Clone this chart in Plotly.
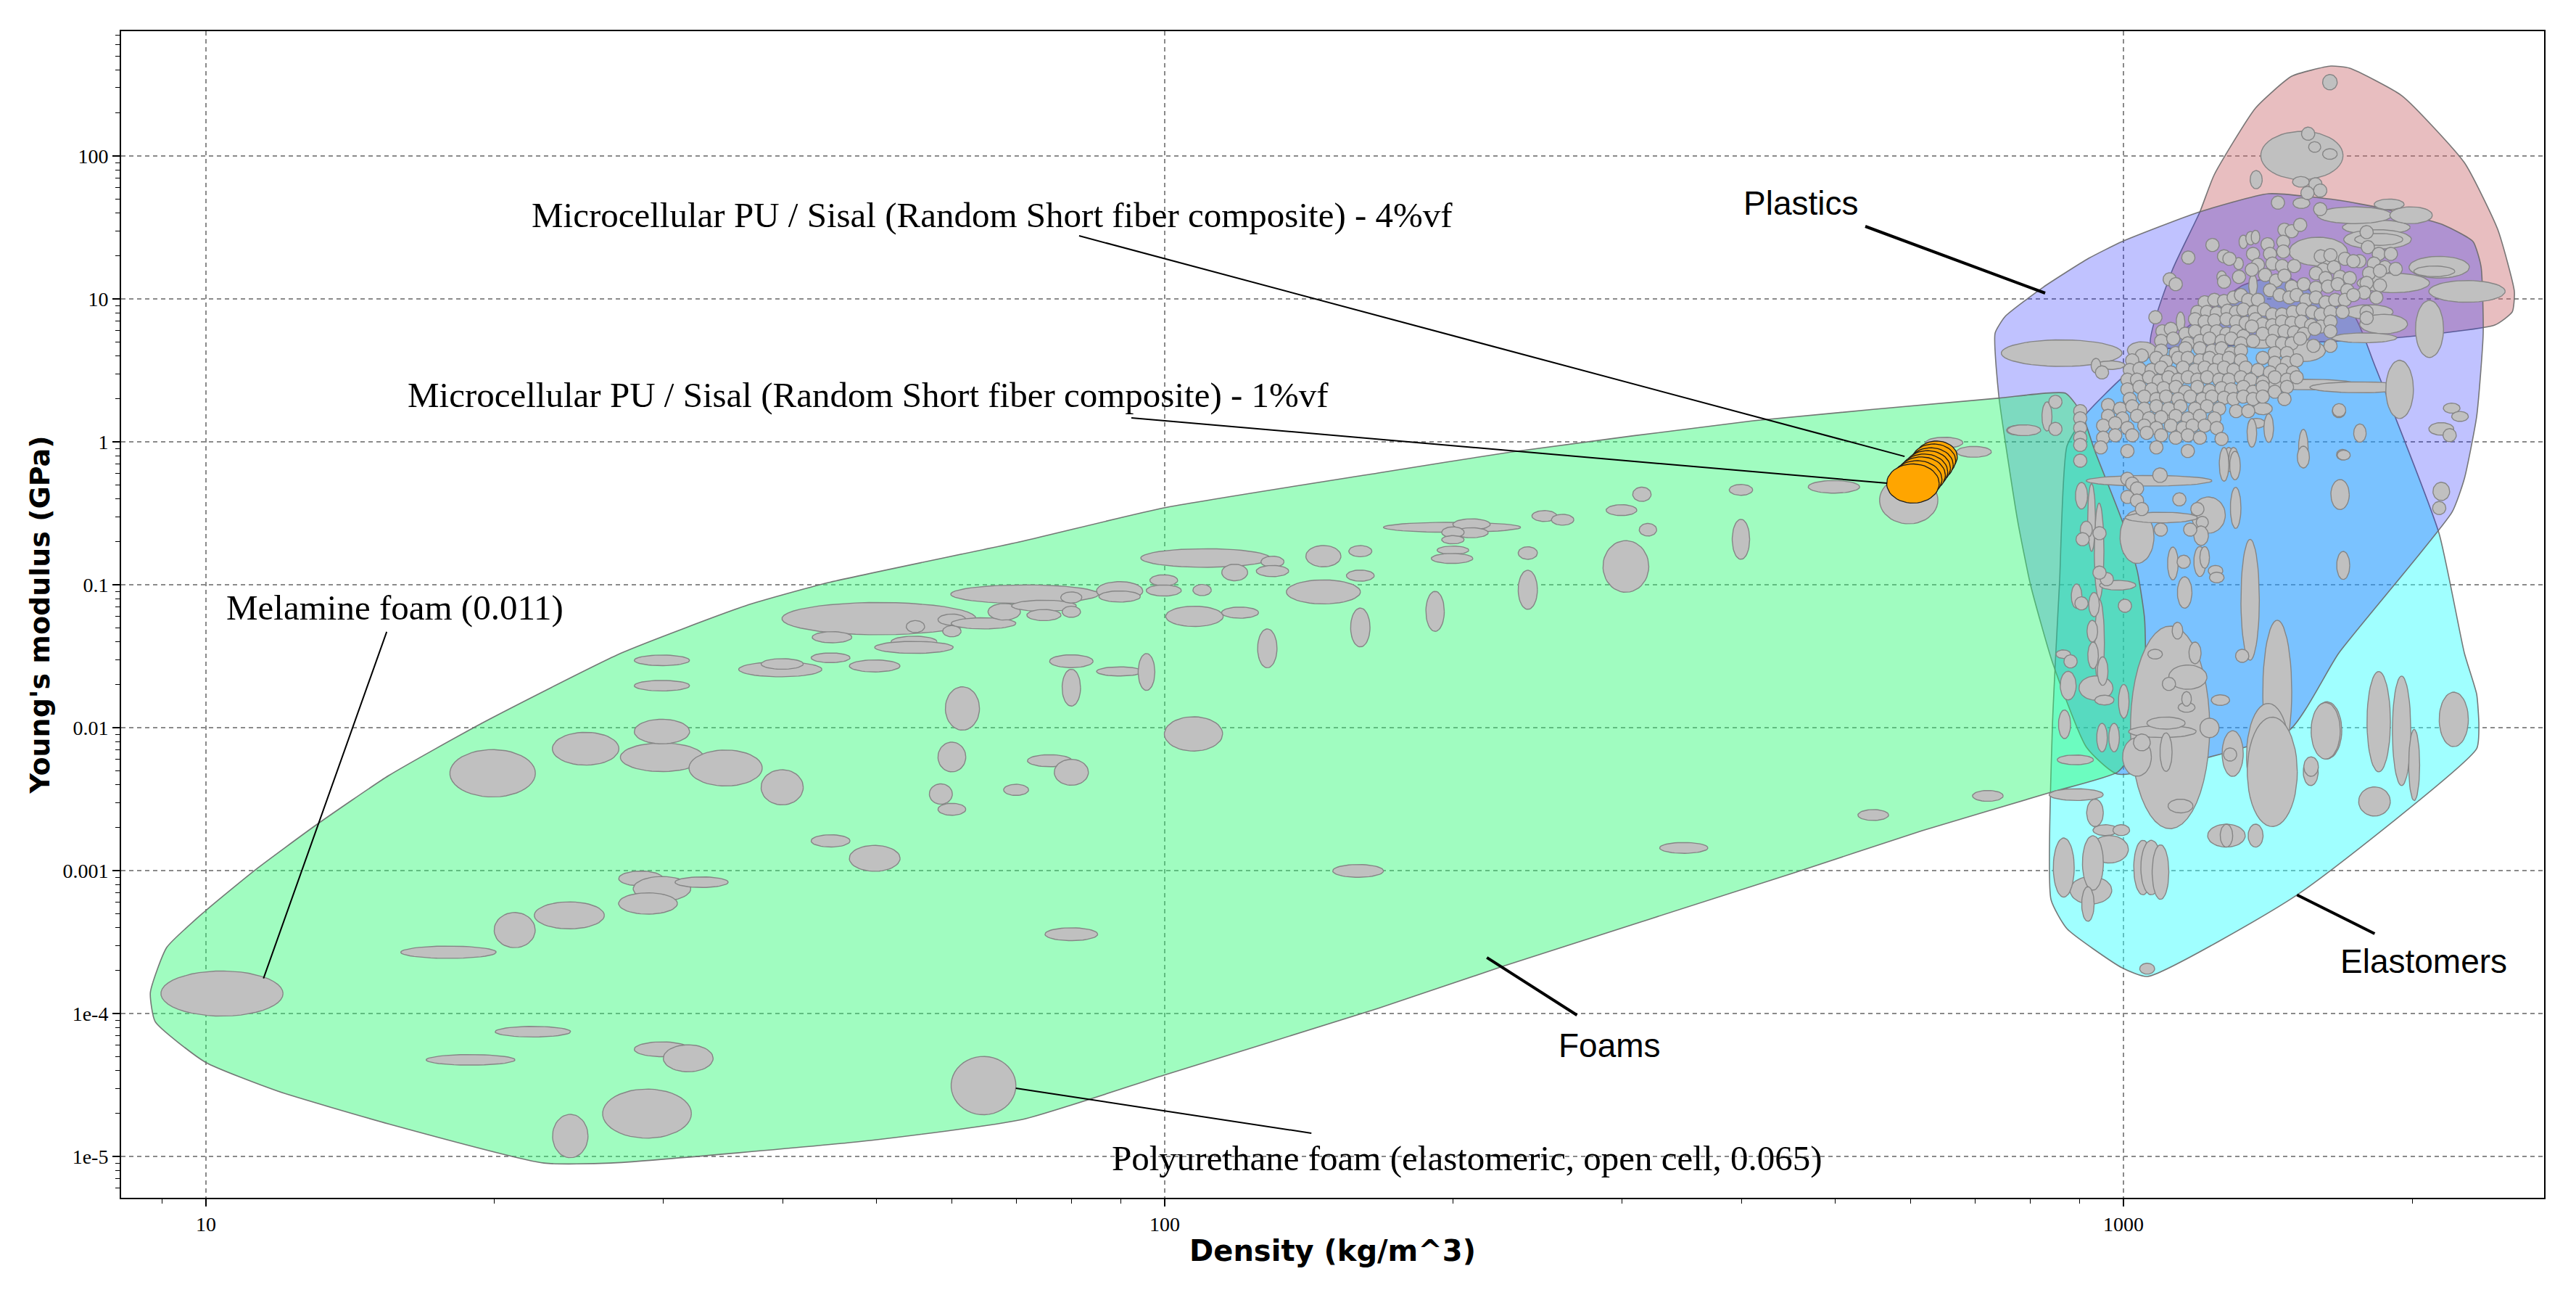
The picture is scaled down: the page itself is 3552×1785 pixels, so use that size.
import numpy as np
import plotly.graph_objects as go

# ---------------------------------------------------------------------------
# DATA  (stored as log10 values:
#        density in kg/m^3, Young's modulus in GPa; s* = half range in decades)
# ---------------------------------------------------------------------------

# --- family envelopes -------------------------------------------------------
foam_env_lrho = [0.942, 0.959, 0.999, 1.0514, 1.115, 1.1906, 1.289, 1.4334, 1.5628, 1.649,
                 1.8517, 1.9992, 2.2224, 2.3616, 2.6135, 2.869, 2.9395, 2.9566, 2.9697, 2.9992,
                 3.0144, 3.022, 3.0227, 3.0129, 2.994, 2.9244, 2.790, 2.6566, 2.3525, 2.2224,
                 1.9992, 1.8517, 1.6929, 1.4221, 1.3525, 1.1906, 1.0749, 0.9992, 0.947]
foam_env_lE = [-3.853, -3.538, -3.284, -2.995, -2.680, -2.335, -1.964, -1.477, -1.147, -0.985,
               -0.695, -0.462, -0.218, -0.071, 0.147, 0.305, 0.340, 0.198, -0.056, -0.563,
               -0.904, -1.239, -1.731, -2.137, -2.310, -2.452, -2.721, -3.015, -3.670, -3.964,
               -4.431, -4.741, -4.888, -5.046, -5.046, -4.772, -4.543, -4.340, -4.056]

elast_env_lrho = [2.941, 2.9614, 2.9992, 3.0318, 3.0673, 3.1248, 3.1679, 3.2057, 3.2413, 3.261,
                  3.3291, 3.3555, 3.3684, 3.3707, 3.3684, 3.1815, 3.025, 2.9985, 2.941, 2.9244,
                  2.9259, 2.9334]
elast_env_lE = [-0.030, 0.198, 0.452, 0.619, 0.807, 1.096, 1.162, 1.010, 0.873, 0.553,
                -0.640, -1.477, -1.766, -1.985, -2.147, -3.168, -3.741, -3.680, -3.406, -3.203,
                -1.985, -0.970]

other_env_lrho = [3.0287, 3.0507, 3.0794, 3.0946, 3.1377, 3.1755, 3.2163, 3.236, 3.2905, 3.3555,
                  3.3903, 3.4077, 3.4055, 3.3873, 3.2814, 3.1301]
other_env_lE = [0.675, 1.198, 1.604, 1.868, 2.335, 2.558, 2.629, 2.614, 2.421, 1.954,
                1.487, 1.051, 0.909, 0.817, 0.726, 0.680]

plast_env_lrho = [2.8661, 2.8767, 2.9161, 2.9637, 2.9985, 3.0772, 3.1513, 3.2247, 3.2686, 3.3336,
                  3.3646, 3.3729, 3.3752, 3.3684, 3.3555, 3.3427, 3.2247, 3.1725, 2.994, 2.9614,
                  2.9259, 2.9032, 2.8896, 2.8699]
plast_env_lE = [0.761, 0.878, 1.081, 1.284, 1.401, 1.604, 1.736, 1.690, 1.635, 1.518,
                1.401, 1.228, 0.761, 0.178, -0.259, -0.492, -1.477, -2.020, -2.325, -2.137,
                -1.543, -1.005, -0.553, 0.325]

# --- foam grades --------------------------------------------------------------
foam_lrho = [1.0167, 1.299, 1.396, 1.4756, 1.4756, 1.542, 1.601, 1.4756, 1.4756, 1.599,
             1.601, 1.6515, 1.6515, 1.4536, 1.4756, 1.517, 1.461, 1.379, 1.322, 1.253,
             1.341, 1.276, 1.4756, 1.503, 1.460, 1.380,
             1.702, 1.653, 1.740, 1.7385, 1.7385, 1.778, 1.778, 1.811, 1.8326, 1.854,
             1.874, 1.874, 1.9026, 1.9026, 1.953, 1.953, 1.999, 1.999, 2.039, 2.0425,
             2.073, 2.1124, 2.1124, 2.1655, 2.204, 2.204, 2.1655, 2.031, 2.0786, 2.107,
             2.204, 1.6975, 1.9026, 1.9026, 1.953, 1.981, 1.789, 1.778, 1.7665, 1.778,
             1.880, 1.9026, 1.845, 2.030, 1.6975, 1.9026, 2.2017, 1.811,
             2.2997, 2.320, 2.320, 2.3006, 2.3006, 2.3006, 2.2997, 2.396, 2.415, 2.3787,
             2.3787, 2.282, 2.4764, 2.4977, 2.504, 2.481, 2.601, 2.601, 2.698, 2.776,
             2.813, 2.844, 2.891, 2.739, 2.8585, 2.5414]
foam_lE = [-3.860, -2.319, -2.147, -2.207, -2.027, -2.282, -2.417, -1.529, -1.706, -1.592,
           -1.554, -1.511, -2.792, -3.055, -3.127, -3.081, -3.230, -3.313, -3.416, -3.571,
           -4.127, -4.324, -4.250, -4.313, -4.700, -4.857,
           -1.237, -1.367, -1.2925, -1.399, -1.438, -1.244, -1.325, -1.270, -1.189, -1.066,
           -1.147, -1.212, -1.089, -1.189, -1.043, -1.082, -0.969, -1.040, -1.037, -0.813,
           -0.914, -0.839, -0.904, -0.800, -0.765, -0.936, -1.050, -1.221, -1.195, -1.445,
           -1.299, -1.568, -1.535, -1.720, -1.6065, -1.610, -1.8655, -2.205, -2.464, -2.571,
           -2.231, -2.312, -2.435, -2.0435, -2.914, -3.445, -3.002, -4.504,
           -0.598, -0.577, -0.636, -0.633, -0.685, -0.758, -0.816, -0.519, -0.545, -0.778,
           -1.035, -1.186, -0.478, -0.367, -0.615, -0.872, -0.336, -0.682, -0.315, -0.408,
           -0.006, -0.070, 0.081, -2.611, -2.477, -2.841]
foam_srho = [0.0637, 0.0446, 0.0347, 0.0434, 0.0289, 0.0382, 0.022, 0.0289, 0.0289, 0.0434,
             0.022, 0.0203, 0.0203, 0.0231, 0.030, 0.0278, 0.0307, 0.0365, 0.0214, 0.0498,
             0.0394, 0.0463, 0.0289, 0.026, 0.0463, 0.0185,
             0.1013, 0.0207, 0.0096, 0.024, 0.041, 0.0145, 0.0096, 0.0338, 0.0169, 0.0772,
             0.0338, 0.0178, 0.011, 0.0096, 0.0241, 0.0217, 0.0145, 0.0183, 0.0096, 0.0675,
             0.0135, 0.012, 0.0169, 0.0183, 0.012, 0.0145, 0.0386, 0.030, 0.0193, 0.0101,
             0.0101, 0.0265, 0.0227, 0.0096, 0.0241, 0.0087, 0.0178, 0.0145, 0.012, 0.0145,
             0.0232, 0.0178, 0.013, 0.0304, 0.0265, 0.0275, 0.0265, 0.0338,
             0.0716, 0.0195, 0.0174, 0.0117, 0.0117, 0.0165, 0.0217, 0.013, 0.0117, 0.010,
             0.010, 0.0096, 0.016, 0.0096, 0.0091, 0.0239, 0.0122, 0.0091, 0.0269, 0.0304,
             0.0195, 0.0182, 0.013, 0.016, 0.016, 0.0252]
foam_sE = [0.158, 0.166, 0.115, 0.100, 0.086, 0.126, 0.123, 0.037, 0.037, 0.052,
           0.037, 0.034, 0.043, 0.052, 0.086, 0.037, 0.0745, 0.0945, 0.123, 0.043,
           0.037, 0.037, 0.052, 0.0945, 0.172, 0.152,
           0.113, 0.039, 0.042, 0.039, 0.042, 0.039, 0.039, 0.039, 0.058, 0.065,
           0.039, 0.039, 0.039, 0.039, 0.065, 0.039, 0.039, 0.039, 0.039, 0.065,
           0.058, 0.039, 0.039, 0.0745, 0.039, 0.039, 0.084, 0.071, 0.039, 0.136,
           0.136, 0.042, 0.045, 0.129, 0.032, 0.129, 0.152, 0.104, 0.071, 0.042,
           0.042, 0.0906, 0.039, 0.12, 0.0906, 0.045, 0.045, 0.204,
           0.035, 0.038, 0.035, 0.038, 0.029, 0.029, 0.035, 0.038, 0.038, 0.044,
           0.137, 0.140, 0.038, 0.050, 0.044, 0.181, 0.038, 0.140, 0.044, 0.166,
           0.038, 0.038, 0.035, 0.038, 0.038, 0.038]

# --- plastics / elastomers: large & elongated grades ---------------------------
big_lrho = [3.1861, 3.2153, 2.9355, 3.3583, 3.2814, 3.2032, 3.3293, 3.3242, 3.2637, 3.2410,
            3.3000, 3.2650, 3.2663, 3.2771, 3.2562, 3.2713, 3.2511, 3.3192, 3.1880, 3.1427,
            3.0192, 2.9864, 3.1932, 3.2466, 3.2880, 3.0482, 3.0486, 3.1604, 3.1509, 3.1552,
            3.1321, 3.0141, 3.0885, 3.0267, 3.0394, 2.9746, 2.9751, 2.9667, 3.0671, 3.2121,
            3.2662, 3.2901, 3.3032, 3.3445, 3.2109, 3.1953, 3.2618, 3.0406, 3.0444, 3.0141,
            2.9713, 2.9498, 2.9507, 3.1074, 2.9660, 2.9855]
big_lE = [2.0034, 2.5161, 0.6205, 1.0525, 1.1117, 1.3317, 1.2217, 1.1929, 1.5009, 1.5855,
          1.5855, 1.4163, 1.4163, 1.6617, 0.9087, 0.8241, 0.7276, 0.7902, 0.6379, 0.6887,
          0.6413, 0.5363, 0.4010, 0.3816, 0.3671, 0.1726, -1.998, -1.7478, -2.1972, -2.3088,
          -1.105, -0.665, -0.5127, -0.2724, -0.5296, -0.7665, -1.4094, -0.5296, -1.6463, -2.0185,
          -1.958, -2.0218, -2.261, -1.9421, -2.0218, -2.3088, -2.5161, -2.027, -1.9678, -2.2046,
          -1.7224, -2.2249, -2.4682, -2.7552, -3.1378, -2.8509]
big_srho = [0.0429, 0.0076, 0.063, 0.0398, 0.0378, 0.0303, 0.0315, 0.0214, 0.0353, 0.0391,
            0.0222, 0.0353, 0.0252, 0.0156, 0.025, 0.025, 0.034, 0.0146, 0.0227, 0.0177,
            0.0151, 0.0151, 0.0504, 0.0522, 0.0144, 0.0164, 0.0413, 0.0151, 0.0226, 0.0261,
            0.0096, 0.0177, 0.0177, 0.0656, 0.0378, 0.005, 0.005, 0.004, 0.020, 0.0156,
            0.0122, 0.0096, 0.0057, 0.0152, 0.0152, 0.0078, 0.0165, 0.0353, 0.020, 0.015,
            0.0177, 0.0189, 0.0283, 0.0196, 0.0218, 0.0196]
big_sE = [0.169, 0.054, 0.093, 0.076, 0.068, 0.100, 0.076, 0.037, 0.051, 0.059,
          0.059, 0.068, 0.042, 0.037, 0.051, 0.068, 0.034, 0.200, 0.076, 0.034,
          0.059, 0.030, 0.037, 0.038, 0.204, 0.034, 0.709, 0.50, 0.367, 0.383,
          0.423, 0.186, 0.127, 0.037, 0.037, 0.338, 0.305, 0.237, 0.085, 0.200,
          0.351, 0.383, 0.249, 0.191, 0.198, 0.096, 0.102, 0.042, 0.042, 0.135,
          0.085, 0.034, 0.041, 0.080, 0.096, 0.096]

# --- plastics / elastomers: medium grades --------------------------------------
mid_lrho = [2.9713, 3.0595, 3.1024, 3.1200, 3.1250, 3.1326, 3.1377, 3.1351, 3.1384, 3.1851,
            3.1856, 3.1994, 3.2153, 3.2285, 3.1876, 3.1452, 3.1390, 3.1339, 3.1515, 3.1099,
            3.1149, 2.8963, 2.9202, 3.2466, 3.3315, 3.3423, 3.3510, 3.3315, 3.0381, 2.9562,
            3.0822, 3.0810, 3.1049, 3.1163, 3.1170, 3.0515, 3.0797, 3.0847, 3.0960, 3.0973,
            3.0638, 3.2259, 3.2292, 3.1876, 3.2297, 3.0746, 3.0563, 3.0330, 3.0658, 3.0658,
            3.0192, 3.0897, 2.9423, 2.9385, 2.9511, 2.9693, 2.9675, 2.9683, 2.9783, 2.9801,
            3.0003, 2.9940, 2.9372, 2.9612, 2.9549, 2.9776, 2.9902, 3.1011, 3.1957, 3.0444,
            2.9377, 2.9681, 2.9629, 2.9812, 2.9977, 2.9703, 3.0203, 3.0290, 3.0386, 3.0247,
            3.1074, 3.1378, 3.0595, 3.1139]
mid_lE = [0.5330, 0.8409, 1.1540, 1.2470, 1.3993, 1.4246, 1.4331, 1.0947, 1.8342, 1.8190,
          1.6700, 2.0627, 2.0136, -0.0897, -0.0474, 0.2318, 0.1303, 0.0626, 0.0965, -0.1236,
          -0.1236, 0.0814, 0.1776, 0.0611, 0.0903, 0.2359, 0.1776, -0.3468, -0.2335, -0.3773,
          -0.5634, -0.6565, -0.1573, -0.1658, -0.4619, -0.8510, -0.8375, -0.8087, -0.9018, -0.9492,
          -1.0541, -0.3688, -0.8646, -0.1066, -0.0930, -1.4770, -1.3214, -1.4855, -1.8578, -1.7986,
          -2.1031, -2.0016, -1.7055, -1.9763, -1.0795, -1.1387, -1.3248, -1.4940, -1.6040, -1.8070,
          -1.8155, -1.0033, -1.4855, -0.6142, -0.1370, -2.0693, -2.0693, -1.8070, -2.2723, -2.1709,
          -2.9784, -2.9465, -3.2335, -2.7169, -2.7169, -2.5958, -2.9784, -2.9784, -3.0103, -3.6863,
          -2.7552, -2.7552, -2.5480, -2.1810]
mid_srho = [0.0050, 0.0045, 0.0050, 0.0050, 0.0045, 0.0050, 0.0045, 0.0045, 0.0063, 0.0088,
            0.0088, 0.0063, 0.0076, 0.0063, 0.0050, 0.0100, 0.0088, 0.0050, 0.0050, 0.0050,
            0.0050, 0.0174, 0.0052, 0.0065, 0.0130, 0.0087, 0.0087, 0.0087, 0.0076, 0.0063,
            0.0063, 0.0076, 0.0050, 0.0055, 0.0055, 0.0055, 0.0063, 0.0050, 0.0076, 0.0076,
            0.0076, 0.0096, 0.0068, 0.0063, 0.0068, 0.0063, 0.0055, 0.0076, 0.0088, 0.0050,
            0.0088, 0.0100, 0.0083, 0.0063, 0.0055, 0.0055, 0.0055, 0.0055, 0.0055, 0.0100,
            0.0055, 0.0189, 0.0076, 0.0063, 0.0063, 0.0055, 0.0055, 0.0096, 0.0076, 0.0063,
            0.0109, 0.0109, 0.0065, 0.0130, 0.0087, 0.0087, 0.0096, 0.0109, 0.0087, 0.0078,
            0.0065, 0.0078, 0.0130, 0.0110]
mid_sE = [0.051, 0.068, 0.042, 0.042, 0.047, 0.047, 0.047, 0.076, 0.064, 0.037,
          0.037, 0.037, 0.037, 0.037, 0.135, 0.042, 0.034, 0.100, 0.100, 0.085,
          0.085, 0.038, 0.102, 0.064, 0.044, 0.035, 0.035, 0.064, 0.051, 0.093,
          0.042, 0.068, 0.118, 0.100, 0.144, 0.115, 0.105, 0.076, 0.037, 0.037,
          0.110, 0.105, 0.098, 0.076, 0.034, 0.076, 0.059, 0.034, 0.034, 0.051,
          0.059, 0.068, 0.100, 0.100, 0.085, 0.085, 0.076, 0.093, 0.100, 0.034,
          0.118, 0.034, 0.030, 0.059, 0.034, 0.100, 0.100, 0.037, 0.068, 0.135,
          0.207, 0.191, 0.121, 0.038, 0.038, 0.096, 0.191, 0.191, 0.191, 0.038,
          0.080, 0.080, 0.048, 0.160]

# --- plastics / elastomers: small grades (common bubble size) ------------------
grade_lrho = [2.9776, 3.0192, 3.0333, 3.0482, 3.0545, 3.0676, 3.0928, 3.1049, 3.1105, 3.1049,
              3.1205, 3.1351, 3.1402, 3.1339, 3.1477, 3.1591, 3.1679, 3.1755, 3.1843, 3.1926,
              3.2002, 3.2052, 3.1919, 3.1611, 3.2052, 3.2536,
              3.2549, 3.2663, 3.2789, 3.2461, 3.2612, 3.2726, 3.2839, 3.2562, 3.2675, 3.2536,
              3.2675, 3.2511, 3.2637, 3.2536, 3.2536,
              2.9549, 2.9549, 2.9549, 2.9549, 2.9549, 2.9549,
              3.2247, 3.0041, 2.9290, 2.9290, 3.2249, 3.3402, 3.3293,
              3.0041, 3.0091, 3.0141, 3.0041, 3.0141, 3.0192, 3.0771, 3.0696, 3.0583, 3.0389,
              3.0628, 3.1238, 3.0474, 2.9562, 3.0015, 2.9826, 2.9750, 2.9448, 2.9574, 2.9750,
              3.1112,
              3.1503, 3.1667,
              3.1528, 3.1667, 3.2058, 3.2159, 3.2310, 3.2398,
              3.1553, 3.1654, 3.1780, 3.2083, 3.2196,
              3.1679, 3.2007, 3.2108, 3.2259, 3.2360,
              3.1755, 3.1881, 3.2007, 3.2133, 3.2234, 3.2335,
              3.0847, 3.0948, 3.1049, 3.1149, 3.1225, 3.1301, 3.1402, 3.1528, 3.1629, 3.1730,
              3.1806, 3.1906, 3.2007, 3.2108, 3.2209, 3.2310, 3.2398,
              3.0771, 3.0872, 3.0973, 3.1086, 3.1175, 3.1250, 3.1364, 3.1465, 3.1553, 3.1654,
              3.1768, 3.1869, 3.1969, 3.2058, 3.2159, 3.2285,
              3.0746, 3.0847, 3.0948, 3.1074, 3.1175, 3.1275, 3.1376, 3.1452, 3.1553, 3.1654,
              3.1755, 3.1856, 3.1957, 3.2058, 3.2159,
              3.0406, 3.0494, 3.0645, 3.0746, 3.0872, 3.0973, 3.1074, 3.1175, 3.1250, 3.1339,
              3.1452, 3.1578, 3.1679, 3.1780, 3.1881, 3.1995, 3.2159,
              3.0393, 3.0519, 3.0671, 3.0797, 3.0897, 3.1023, 3.1124, 3.1225, 3.1351, 3.1553,
              3.1654, 3.1755, 3.1843, 3.1982,
              3.0393, 3.0545, 3.0645, 3.0797, 3.0923, 3.1023, 3.1124, 3.1225, 3.1578, 3.1705,
              3.2159,
              3.0091, 3.0343, 3.0444, 3.0570, 3.0671, 3.0797, 3.0897, 3.0998, 3.1099, 3.1225,
              3.1452, 3.1578, 3.1705, 3.1806,
              3.0066, 3.0167, 3.0293, 3.0393, 3.0494, 3.0620, 3.0746, 3.0847, 3.0948, 3.1049,
              3.1149, 3.1275, 3.1402, 3.1528, 3.1654, 3.1768,
              3.0041, 3.0141, 3.0267, 3.0368, 3.0469, 3.0570, 3.0671, 3.0771, 3.0872, 3.0998,
              3.1099, 3.1225, 3.1326, 3.1452, 3.1578, 3.1705, 3.1806,
              3.0041, 3.0167, 3.0293, 3.0419, 3.0545, 3.0645, 3.0771, 3.0897, 3.1023, 3.1124,
              3.1250, 3.1351, 3.1452, 3.1578, 3.1705,
              3.0066, 3.0217, 3.0343, 3.0444, 3.0570, 3.0696, 3.0822, 3.0923, 3.1049, 3.1149,
              3.1250, 3.1351, 3.1452, 3.1679,
              2.9839, 2.9965, 3.0091, 3.0217, 3.0343, 3.0469, 3.0595, 3.0746, 3.0872, 3.0998,
              3.1175, 3.1301,
              2.9839, 2.9990, 3.0141, 3.0267, 3.0393, 3.0545, 3.0671, 3.0797, 3.0948,
              2.9788, 2.9914, 3.0041, 3.0217, 3.0343, 3.0494, 3.0620, 3.0721, 3.0847, 3.0973,
              2.9788, 2.9914, 3.0091, 3.0242, 3.0393, 3.0545, 3.0671, 3.0797, 3.1023,
              2.9763, 3.0343, 3.0671]
grade_lE = [0.4856, 0.6041, 0.8714, 1.1370, 1.1032, 1.2893, 1.3773, 1.2978, 1.2809, 1.1201,
            1.1540, 1.3147, 1.2386, 1.2047, 1.1675, 1.1286, 1.4839, 1.4737, 1.5177, 2.1557,
            1.8020, 1.7581, 1.7410, 1.6735, 1.6278, 1.4670,
            1.3621, 1.3148, 1.3148, 1.2640, 1.2471, 1.2217, 1.2099, 1.1794, 1.1963, 1.1117,
            1.0948, 1.0440, 1.0102, 0.9087, 0.8664,
            0.2149, 0.1641, 0.0965, 0.0288, -0.0220, -0.1320,
            0.2149, -0.0643, 0.2796, 0.0903, 0.2214, 0.0465, -0.4634,
            -0.2588, -0.2927, -0.3265, -0.3857, -0.4111, -0.4703, -0.4703, -0.6142, -0.4027, -0.6142,
            -0.8392, -1.4974, -1.6936, -1.1302, -1.1471, -0.9610, -0.9153, -1.5363, -0.6818, -0.6395,
            -2.1877,
            1.3824, 1.3993,
            1.3147, 1.3316, 1.2978, 1.3062, 1.2809, 1.2639,
            1.2470, 1.2301, 1.2301, 1.2047, 1.2216,
            1.1625, 1.1793, 1.1455, 1.1540, 1.1455,
            1.0863, 1.1032, 1.0778, 1.0863, 1.1032, 1.0609,
            0.9763, 0.9932, 0.9848, 1.0101, 1.0270, 0.9932, 0.9932, 1.0609, 1.0270, 1.0101,
            1.0270, 0.9932, 1.0101, 0.9763, 0.9932, 0.9932, 1.0270,
            0.9086, 0.9086, 0.9002, 0.9171, 0.9086, 0.9255, 0.9086, 0.9255, 0.8917, 0.8917,
            0.9086, 0.9255, 0.9086, 0.8917, 0.9086, 0.9086,
            0.8579, 0.8409, 0.8494, 0.8579, 0.8409, 0.8325, 0.8579, 0.8240, 0.8156, 0.8409,
            0.8325, 0.8409, 0.8156, 0.8071, 0.8409,
            0.7733, 0.7902, 0.7563, 0.7733, 0.7733, 0.7733, 0.7563, 0.7733, 0.7394, 0.8071,
            0.7563, 0.7733, 0.7733, 0.7648, 0.7563, 0.7902, 0.7733,
            0.7056, 0.7225, 0.6887, 0.7056, 0.7225, 0.7056, 0.7225, 0.6887, 0.7056, 0.7056,
            0.6887, 0.6887, 0.7225, 0.6717,
            0.6379, 0.6210, 0.6548, 0.6548, 0.6379, 0.6548, 0.6210, 0.6379, 0.6210, 0.6210,
            0.6717,
            0.5702, 0.5871, 0.5617, 0.5871, 0.5871, 0.5702, 0.5871, 0.5702, 0.5871, 0.5702,
            0.5871, 0.5533, 0.5533, 0.5702,
            0.5025, 0.5110, 0.5025, 0.5195, 0.4856, 0.5195, 0.5025, 0.5195, 0.5025, 0.5195,
            0.5025, 0.5195, 0.5025, 0.4856, 0.5025, 0.4856,
            0.4349, 0.4349, 0.4518, 0.4264, 0.4518, 0.4349, 0.4518, 0.4349, 0.4518, 0.4349,
            0.4349, 0.4518, 0.4349, 0.4179, 0.4518, 0.4349, 0.4518,
            0.3672, 0.3841, 0.3672, 0.3757, 0.3841, 0.3503, 0.3841, 0.3587, 0.3757, 0.3672,
            0.3841, 0.3503, 0.3841, 0.3503, 0.3841,
            0.2995, 0.3165, 0.2995, 0.3165, 0.2995, 0.3165, 0.2995, 0.3165, 0.3080, 0.2995,
            0.3165, 0.2995, 0.3165, 0.2995,
            0.2572, 0.2318, 0.2487, 0.2318, 0.2487, 0.2318, 0.2487, 0.2318, 0.2487, 0.2318,
            0.2149, 0.2149,
            0.1811, 0.1641, 0.1811, 0.1641, 0.1726, 0.1811, 0.1641, 0.1811, 0.1641,
            0.1134, 0.1303, 0.0965, 0.1134, 0.0965, 0.1134, 0.0965, 0.1134, 0.1134, 0.0965,
            0.0288, 0.0457, 0.0457, 0.0626, 0.0457, 0.0288, 0.0457, 0.0288, 0.0203,
            -0.0389, -0.0389, -0.0643]
grade_srho = 0.0069
grade_sE = 0.046

# --- microcellular PU / sisal composites (4 %vf ... 1 %vf) --------------------
pu_sisal_lrho = [2.805, 2.802, 2.799, 2.7956, 2.792, 2.789, 2.7847, 2.7804]
pu_sisal_lE = [-0.1052, -0.1314, -0.1606, -0.1839, -0.2101, -0.2334, -0.2626, -0.2917]
pu_sisal_srho = [0.0217, 0.023, 0.0234, 0.0239, 0.0247, 0.0252, 0.026, 0.0274]
pu_sisal_sE = [0.111, 0.1166, 0.119, 0.122, 0.125, 0.128, 0.131, 0.137]

# --- annotations ---------------------------------------------------------------
note_text = ["Microcellular PU / Sisal (Random Short fiber composite) - 4%vf",
             "Microcellular PU / Sisal (Random Short fiber composite) - 1%vf",
             "Melamine foam (0.011)",
             "Polyurethane foam (elastomeric, open cell, 0.065)"]
note_lrho = [1.3381, 1.2088, 1.0197, 1.9433]
note_lE = [1.5838, 0.3299, -1.1574, -5.0102]
note_line_from = [(1.9107, 1.4416), (1.9652, 0.1675), (1.1885, -1.329), (2.153, -4.837)]
note_line_to = [(2.7717, -0.102), (2.7534, -0.2893), (1.060, -3.754), (1.8447, -4.523)]

family_text = ["Plastics", "Foams", "Elastomers"]
family_lrho = [2.6634, 2.4644, 3.3132]
family_lE = [1.670, -4.2234, -3.632]
family_line_from = [(2.7307, 1.5076), (2.430, -4.011), (3.262, -3.441)]
family_line_to = [(2.9183, 1.0406), (2.336, -3.608), (3.181, -3.170)]

x_tickvals = [10, 100, 1000]
x_ticktext = ["10", "100", "1000"]
y_tickvals = [1e-5, 1e-4, 1e-3, 1e-2, 0.1, 1, 10, 100]
y_ticktext = ["1e-5", "1e-4", "0.001", "0.01", "0.1", "1", "10", "100"]

# ---------------------------------------------------------------------------
T = np.linspace(0.0, 2.0 * np.pi, 46)
COS, SIN = np.cos(T), np.sin(T)
traces = []


def region(lr, le, fill):
    lr = list(lr) + [lr[0]]
    le = list(le) + [le[0]]
    traces.append(go.Scatter(
        x=np.power(10.0, lr), y=np.power(10.0, le), mode="lines", fill="toself",
        fillcolor=fill, line=dict(color="rgba(105,105,105,0.9)", width=1.6,
                                  shape="spline", smoothing=0.5),
        hoverinfo="skip", showlegend=False))


def bubble(lr, le, sr, se, fill="#c0c0c0", edge="#858585", w=1.4):
    traces.append(go.Scatter(
        x=np.power(10.0, lr + sr * COS), y=np.power(10.0, le + se * SIN),
        mode="lines", fill="toself", fillcolor=fill,
        line=dict(color=edge, width=w), hoverinfo="skip", showlegend=False))


region(elast_env_lrho, elast_env_lE, "rgba(44,255,255,0.45)")
region(other_env_lrho, other_env_lE, "rgba(204,111,115,0.45)")
region(plast_env_lrho, plast_env_lE, "rgba(22,30,255,0.27)")
region(foam_env_lrho, foam_env_lE, "rgba(44,248,115,0.45)")

for a, b, c, d in zip(foam_lrho, foam_lE, foam_srho, foam_sE):
    bubble(a, b, c, d)
for a, b, c, d in zip(big_lrho, big_lE, big_srho, big_sE):
    bubble(a, b, c, d)
for a, b, c, d in zip(mid_lrho, mid_lE, mid_srho, mid_sE):
    bubble(a, b, c, d)
for a, b in zip(grade_lrho, grade_lE):
    bubble(a, b, grade_srho, grade_sE)
for a, b, c, d in zip(pu_sisal_lrho, pu_sisal_lE, pu_sisal_srho, pu_sisal_sE):
    bubble(a, b, c, d, fill="#ffa500", edge="#1a1a1a", w=1.3)

for (x0, y0), (x1, y1) in zip(note_line_from, note_line_to):
    traces.append(go.Scatter(x=[10 ** x0, 10 ** x1], y=[10 ** y0, 10 ** y1], mode="lines",
                             line=dict(color="black", width=2), hoverinfo="skip",
                             showlegend=False))
for (x0, y0), (x1, y1) in zip(family_line_from, family_line_to):
    traces.append(go.Scatter(x=[10 ** x0, 10 ** x1], y=[10 ** y0, 10 ** y1], mode="lines",
                             line=dict(color="black", width=4), hoverinfo="skip",
                             showlegend=False))

fig = go.Figure(data=traces)

annotations = []
for t, a, b in zip(note_text, note_lrho, note_lE):
    annotations.append(dict(x=a, y=b, xref="x", yref="y", text=t, showarrow=False,
                            xanchor="left", yanchor="middle",
                            font=dict(family="Liberation Serif", size=49, color="black")))
for t, a, b in zip(family_text, family_lrho, family_lE):
    annotations.append(dict(x=a, y=b, xref="x", yref="y", text=t, showarrow=False,
                            xanchor="center", yanchor="middle",
                            font=dict(family="Liberation Sans", size=46, color="black")))


def minor_vals(k0, k1):
    return [m * 10.0 ** k for k in range(k0, k1) for m in range(2, 10)]


axis_common = dict(
    type="log", showline=True, linecolor="black", linewidth=2, mirror=True,
    ticks="outside", ticklen=10, tickwidth=1.5, tickcolor="black",
    tickfont=dict(family="Liberation Serif", size=28, color="black"),
    showgrid=True, gridcolor="#8a8a8a", gridwidth=1.5, griddash="6px,5px",
    zeroline=False, tickmode="array", automargin=False)

fig.update_xaxes(**axis_common, range=[0.9115, 3.4387], tickvals=x_tickvals,
                 ticktext=x_ticktext,
                 minor=dict(ticks="outside", ticklen=6, tickwidth=1.2, tickcolor="black",
                            showgrid=False, tickmode="array", tickvals=minor_vals(0, 4)),
                 title=dict(text="<b>Density (kg/m^3)</b>",
                            font=dict(family="DejaVu Sans", size=40, color="black"),
                            standoff=8))
fig.update_yaxes(**axis_common, range=[-5.289, 2.873], tickvals=y_tickvals,
                 ticktext=y_ticktext,
                 minor=dict(ticks="outside", ticklen=6, tickwidth=1.2, tickcolor="black",
                            showgrid=False, tickmode="array", tickvals=minor_vals(-6, 3)),
                 title=dict(text="<b>Young's modulus (GPa)</b>",
                            font=dict(family="DejaVu Sans", size=38, color="black"),
                            standoff=6))

# the page body adds an 8 px offset, so the figure is 16 px smaller than the window
fig.update_layout(width=3536, height=1769, margin=dict(l=159, r=36, t=35, b=126),
                  paper_bgcolor="white", plot_bgcolor="white", showlegend=False,
                  annotations=annotations)

fig.write_html("out.html")
